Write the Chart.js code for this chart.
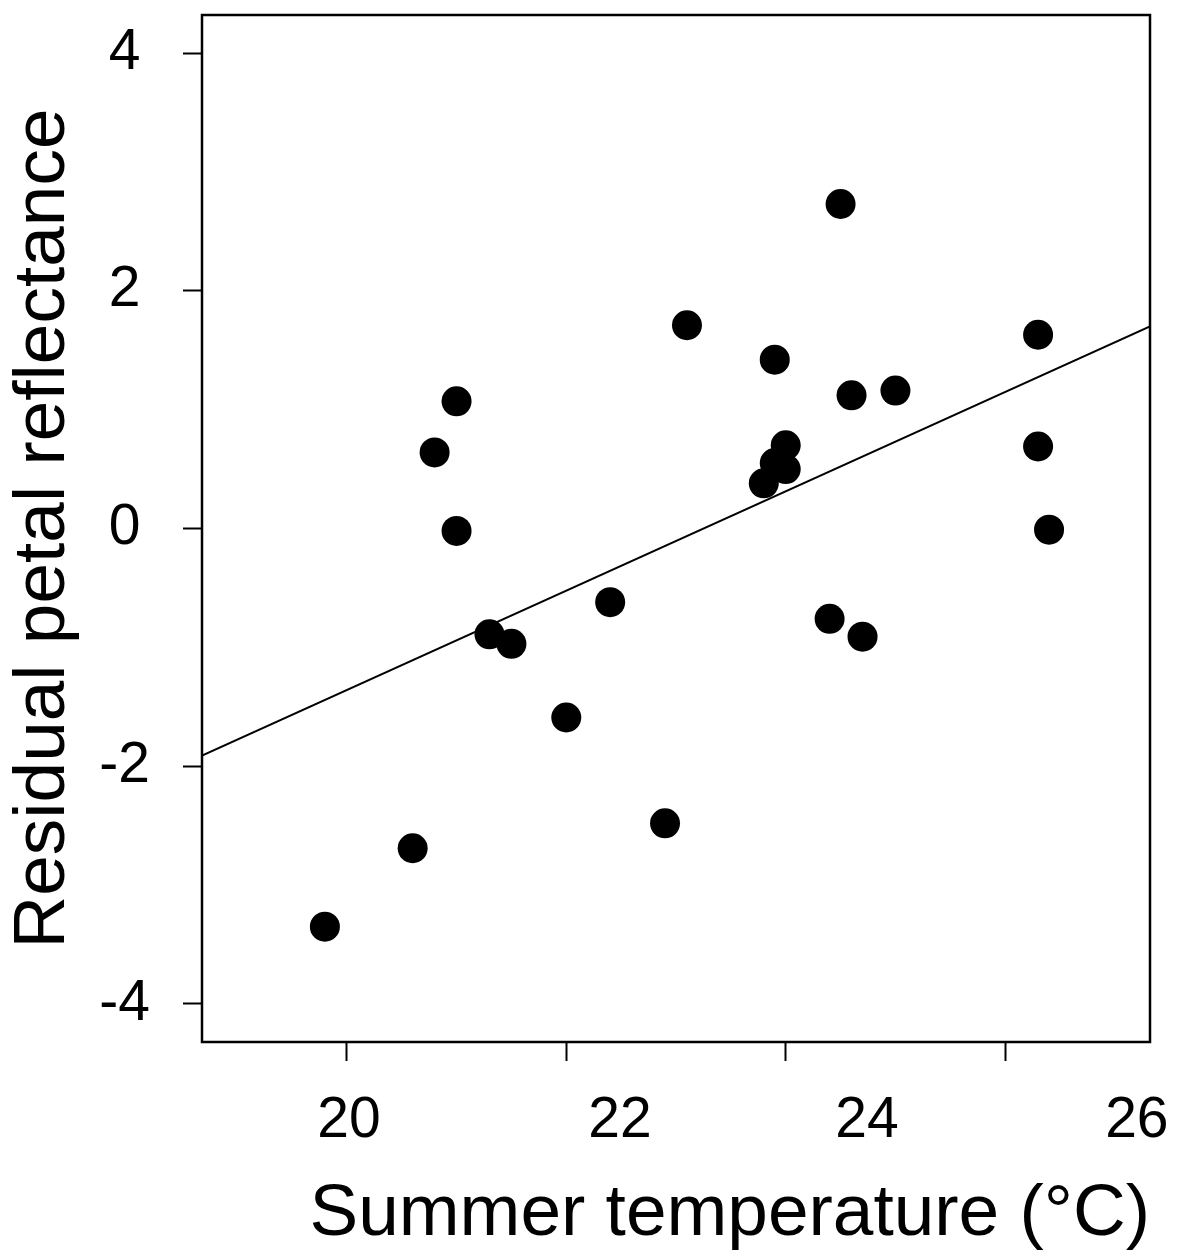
<!DOCTYPE html>
<html>
<head>
<meta charset="utf-8">
<script src="https://cdn.jsdelivr.net/npm/chart.js@4"></script>
<style>
  html, body { margin: 0; padding: 0; background: #fff; }
  #wrap { width: 1181px; height: 1259px; position: relative; }
</style>
</head>
<body>
<div id="wrap"><canvas id="chart"></canvas></div>
<script>
// summer temperature (°C) and residual petal reflectance
const temp  = [19.8, 20.6, 20.8, 21.0, 21.0, 21.3, 21.5, 22.0, 22.4, 22.9, 23.1, 23.8,
               23.9, 23.9, 24.0, 24.0, 24.4, 24.5, 24.6, 24.7, 25.0, 26.3, 26.3, 26.4]
const resid = [-3.35, -2.69, 0.64, 1.07, -0.02, -0.89, -0.97, -1.59, -0.62, -2.48, 1.71, 0.38,
               0.55, 1.42, 0.70, 0.50, -0.76, 2.73, 1.12, -0.91, 1.16, 1.63, 0.69, -0.01]

// fitted regression line, end points at the plot edges
const fitX = [18.68, 27.32]
const fitY = [-1.91, 1.70]

const xTicks = [20, 22, 24, 26]
const xTickLabels = ['20', '22', '24', '26']
const yTicks = [-4, -2, 0, 2, 4]

// the printed x labels sit to the right of their tick marks in the original
const xLabelAt = [20.02, 22.49, 24.74, 27.2]

const FONT = 'Liberation Sans, Arial, Helvetica, sans-serif'
const xMin = 18.68, xMax = 27.32, yMin = -4.32, yMax = 4.32

const frame = {
    id: 'frame',
    afterDraw(chart) {
        const {ctx, chartArea: a} = chart
        ctx.save()
        ctx.strokeStyle = '#000'
        ctx.lineWidth = 2.5
        ctx.strokeRect(a.left, a.top, a.right - a.left, a.bottom - a.top)
        ctx.restore()
    }
}

// scales reserve room for overflowing labels; the layout here is fixed by hand
const noPad = (s) => {
    s.paddingTop = 0
    s.paddingBottom = 0
    s.paddingLeft = 0
    s.paddingRight = 0
}

new Chart(document.getElementById('chart'), {
    type: 'scatter',
    data: {
        datasets: [
            {
                data: temp.map((t, i) => ({x: t, y: resid[i]})),
                backgroundColor: '#000',
                borderWidth: 0,
                pointRadius: 15,
                pointHoverRadius: 15,
            },
            {
                type: 'line',
                data: fitX.map((t, i) => ({x: t, y: fitY[i]})),
                borderColor: '#000',
                borderWidth: 2,
                pointRadius: 0,
                fill: false,
            }
        ]
    },
    options: {
        responsive: true,
        maintainAspectRatio: false,
        animation: false,
        layout: { padding: { top: 12, right: 31, left: 0, bottom: 0 } },
        plugins: {
            legend: { display: false },
            tooltip: { enabled: false },
        },
        scales: {
            x: {
                type: 'linear',
                position: 'bottom',
                weight: 0,
                min: xMin,
                max: xMax,
                afterBuildTicks: (s) => { s.ticks = xTicks.map(v => ({value: v})) },
                ticks: { display: false },
                grid: {
                    drawOnChartArea: false,
                    drawTicks: true,
                    tickLength: 19,
                    tickWidth: 2,
                    tickColor: '#000',
                },
                border: { display: false },
                afterFit: (s) => { s.height = 19; noPad(s) },
            },
            xLabels: {
                type: 'linear',
                position: 'bottom',
                weight: 1,
                min: xMin,
                max: xMax,
                afterBuildTicks: (s) => { s.ticks = xLabelAt.map(v => ({value: v})) },
                ticks: {
                    color: '#000',
                    font: { family: FONT, size: 57 },
                    padding: 18,
                    maxRotation: 0,
                    autoSkip: false,
                    callback: (v, i) => xTickLabels[i],
                },
                grid: { display: false },
                border: { display: false },
                title: {
                    display: true,
                    text: 'Summer temperature (°C)',
                    color: '#000',
                    align: 'end',
                    font: { family: FONT, size: 73 },
                    padding: 0,
                },
                afterFit: (s) => { s.height = 198; noPad(s) },
            },
            y: {
                type: 'linear',
                min: yMin,
                max: yMax,
                afterBuildTicks: (s) => { s.ticks = yTicks.map(v => ({value: v})) },
                ticks: {
                    color: '#000',
                    font: { family: FONT, size: 57 },
                    padding: 33,
                    crossAlign: 'center',
                },
                grid: {
                    drawOnChartArea: false,
                    drawTicks: true,
                    tickLength: 19,
                    tickWidth: 2,
                    tickColor: '#000',
                },
                border: { display: false },
                title: {
                    display: true,
                    text: 'Residual petal reflectance',
                    color: '#000',
                    font: { family: FONT, size: 73 },
                    padding: 0,
                },
                afterFit: (s) => { s.width = 202; noPad(s) },
            }
        }
    },
    plugins: [frame]
})
</script>
</body>
</html>
